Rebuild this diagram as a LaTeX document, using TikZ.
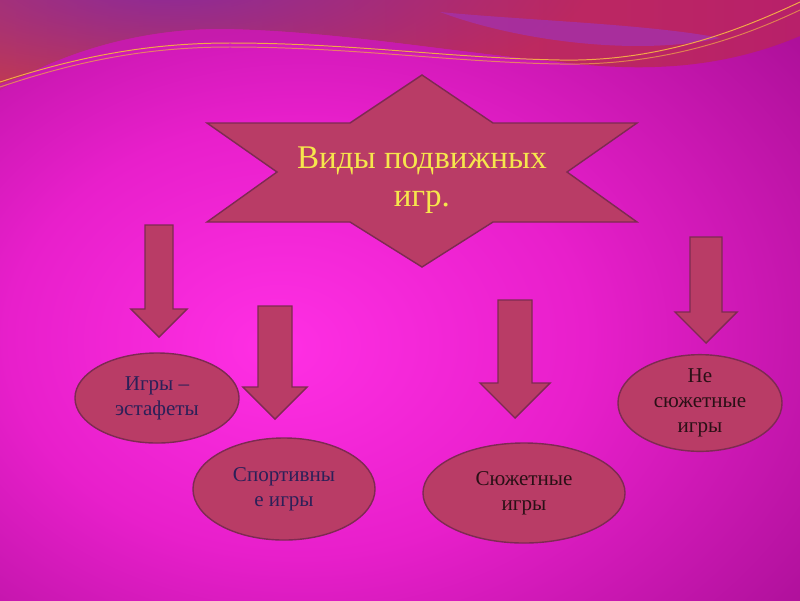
\documentclass[tikz,border=0pt]{standalone}
\usepackage{fontspec}
\setmainfont{Liberation Serif}
\usepackage{tikz}
\usetikzlibrary{positioning,shapes.geometric,fadings}

\definecolor{glowcore}{HTML}{FF2FE4}
\definecolor{glowmid}{HTML}{E81FCB}
\definecolor{glowrim}{HTML}{AE109A}
\definecolor{glowedge}{HTML}{880878}
\definecolor{bandleft}{HTML}{C63A4C}
\definecolor{bandmid}{HTML}{A82A90}
\definecolor{bandright}{HTML}{B8206A}
\definecolor{bandtop}{HTML}{8A2A9C}
\definecolor{bandlight}{HTML}{C41CAA}
\definecolor{bandviolet}{HTML}{A530A6}
\definecolor{goldline}{HTML}{F2A848}
\definecolor{rosefill}{HTML}{B93C66}
\definecolor{roseedge}{HTML}{7E2A52}
\definecolor{titleyellow}{HTML}{F6E64C}
\definecolor{inknavy}{HTML}{2C2058}
\definecolor{inkdark}{HTML}{2A1016}

\pgfdeclareradialshading{bgglow}{\pgfpoint{-8bp}{-4bp}}{color(0bp)=(glowcore); color(18bp)=(glowmid); color(38bp)=(glowrim); color(60bp)=(glowedge); color(90bp)=(glowedge)}
\tikzfading[name=softglow, inner color=transparent!0, outer color=transparent!100]

\begin{document}
\begin{tikzpicture}[x=0.025cm, y=-0.025cm]
  \tikzset{
    banner/.style={draw=roseedge, fill=rosefill, line width=1pt, line join=miter},
    pointer/.style={draw=roseedge, fill=rosefill, line width=1pt},
    game/.style={draw=roseedge, fill=rosefill, ellipse, line width=1pt, align=center, inner sep=0pt,
      font=\fontsize{15}{17.8}\selectfont},
    heading/.style={text=titleyellow, align=center, inner sep=0pt, font=\fontsize{23.5}{27}\selectfont},
    wave/.style={draw=goldline, line width=0.7pt}
  }

  \useasboundingbox (0,0) rectangle (800,600);
  \shade[shading=bgglow] (0,0) rectangle (800,600);

  \shade[left color=bandleft, middle color=bandmid, right color=bandright]
    (0,0) -- (800,0) -- (800,36) .. controls (720,70) and (640,72) .. (560,62)
    .. controls (450,52) and (330,30) .. (220,29) .. controls (130,29) and (50,58) .. (0,90) -- cycle;
  \begin{scope}
    \clip (0,0) -- (800,0) -- (800,36) .. controls (720,70) and (640,72) .. (560,62)
      .. controls (450,52) and (330,30) .. (220,29) .. controls (130,29) and (50,58) .. (0,90) -- cycle;
    \fill[bandtop, path fading=softglow] (170,-20) ellipse [x radius=420, y radius=130];
    \fill[bandviolet, opacity=0.85]
      (440,12) .. controls (520,42) and (640,56) .. (720,38) .. controls (650,24) and (520,20) .. (440,12) -- cycle;
  \end{scope}
  \fill[bandlight, opacity=0.8]
    (0,90) .. controls (50,58) and (130,29) .. (220,29) .. controls (330,30) and (450,52) .. (560,62)
    .. controls (450,60) and (340,44) .. (230,43) .. controls (150,43) and (80,56) .. (0,84) -- cycle;
  \draw[wave] (0,82) .. controls (80,56) and (150,43) .. (230,43) .. controls (350,43) and (450,58) .. (560,60)
    .. controls (660,62) and (740,30) .. (800,2);
  \draw[wave, opacity=0.7] (0,87) .. controls (80,60) and (150,47) .. (230,47) .. controls (350,47) and (450,62) .. (560,64)
    .. controls (665,66) and (745,36) .. (800,10);

  \draw[banner] (422,75) -- (493,123) -- (637,123) -- (567,172) -- (637,222) -- (493,222) -- (422,267)
    -- (350,222) -- (207,222) -- (277,172) -- (207,123) -- (350,123) -- cycle;
  \node[heading] (title) at (422,180) {Виды подвижных\\игр.};

  \foreach \x/\ya/\yb/\yc/\sw/\hw in {159/225/309/337/14/28, 275/306/387/419/17/32,
      515/300/383/418/17/35, 706/237/312/343/16/31}
    \draw[pointer] ({\x-\sw},\ya) -- ({\x+\sw},\ya) -- ({\x+\sw},\yb) -- ({\x+\hw},\yb) -- (\x,\yc)
      -- ({\x-\hw},\yb) -- ({\x-\sw},\yb) -- cycle;

  \node[game, text=inknavy, minimum width=4.1cm, minimum height=2.25cm] (relay) at (157,398) {Игры –\\эстафеты};
  \node[game, text=inknavy, minimum width=4.55cm, minimum height=2.55cm] (sport) at (284,489) {Спортивны\\е игры};
  \node[game, text=inkdark, minimum width=5.05cm, minimum height=2.5cm] (plot) at (524,493) {Сюжетные\\игры};
  \node[game, text=inkdark, minimum width=4.1cm, minimum height=2.35cm] (noplot) at (700,403) {Не\\сюжетные\\игры};
\end{tikzpicture}
\end{document}
